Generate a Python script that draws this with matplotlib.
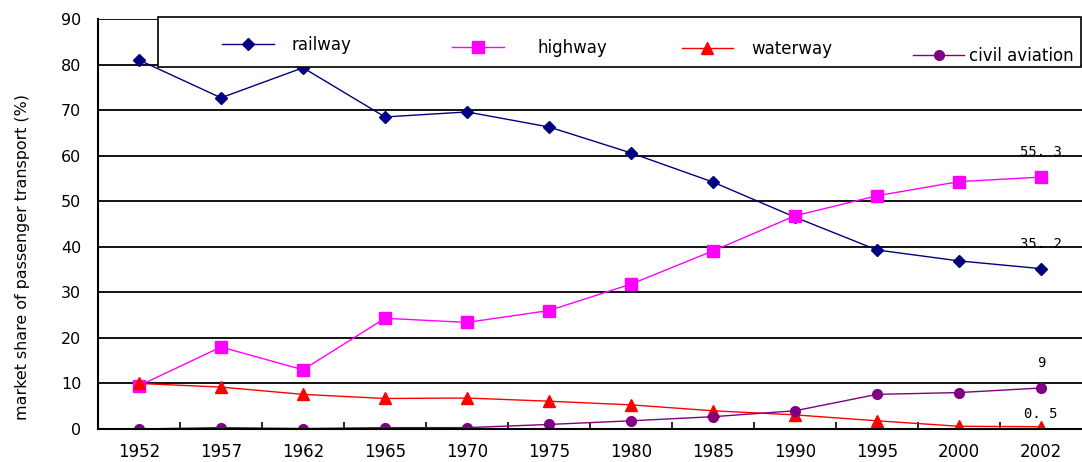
import matplotlib
matplotlib.use("Agg")
import matplotlib.pyplot as plt
from matplotlib.legend import Legend
from matplotlib.patches import Rectangle
import numpy as np

years = ["1952", "1957", "1962", "1965", "1970", "1975", "1980", "1985",
         "1990", "1995", "2000", "2002"]
railway = [81.0, 72.7, 79.3, 68.5, 69.6, 66.3, 60.6, 54.2, 46.5, 39.3, 36.9, 35.2]
highway = [9.5, 18.0, 13.0, 24.3, 23.4, 26.0, 31.8, 39.1, 46.8, 51.2, 54.3, 55.3]
waterway = [10.0, 9.2, 7.6, 6.7, 6.8, 6.1, 5.3, 4.0, 3.1, 1.8, 0.6, 0.5]
aviation = [0.0, 0.3, 0.1, 0.3, 0.3, 1.0, 1.8, 2.7, 4.0, 7.6, 8.0, 9.0]
end_labels = ["55. 3", "35. 2", "9", "0. 5"]

fig = plt.figure(figsize=(10.82, 4.62), dpi=100)
ax = fig.add_axes([98 / 1082, 33 / 462, 984 / 1082, 410 / 462])

x = np.arange(len(years))
lines = [
    ax.plot(x, railway, color="#000080", lw=1, marker="D", ms=6, label="railway")[0],
    ax.plot(x, highway, color="#FF00FF", lw=1, marker="s", ms=8, label="highway")[0],
    ax.plot(x, waterway, color="#FF0000", lw=1, marker="^", ms=8.5, label="waterway")[0],
    ax.plot(x, aviation, color="#800080", lw=1, marker="o", ms=7, label="civil aviation")[0],
]

ax.set_xlim(-0.5, 11.5)
ax.set_ylim(0, 90)
ax.set_yticks(range(0, 91, 10))
for v in range(10, 91, 10):
    ax.axhline(v, color="black", lw=1.3, zorder=0)

ax.set_xticks(x)
ax.set_xticklabels(years, fontsize=12)
ax.set_xticks(np.arange(0.5, 11, 1), minor=True)
ax.tick_params(axis="x", which="major", length=0, pad=10)
ax.tick_params(axis="x", which="minor", direction="in", length=5, width=1.2, color="black")
ax.tick_params(axis="y", length=0, pad=12, labelsize=11.5)

for s in ["top", "right"]:
    ax.spines[s].set_visible(False)
ax.spines["left"].set_linewidth(1.5)
ax.spines["bottom"].set_linewidth(1.5)

ax.set_ylabel("market share of passenger transport (%)", fontsize=11.4)
ax.yaxis.set_label_coords(-0.069, 0.42)

# labels on the 2002 end points
ends = [highway[-1], railway[-1], aviation[-1], waterway[-1]]
offsets = [18, 18, 18, 9]
for lab, v, off in zip(end_labels, ends, offsets):
    ax.annotate(lab, xy=(x[-1], v), xytext=(0, off), textcoords="offset points",
                ha="center", va="center", fontsize=10, family="DejaVu Sans Mono")

# legend box across the top, entries at an even pitch like the original
box = Rectangle((0.061, 0.883), 0.938, 0.122, transform=ax.transAxes,
                facecolor="white", edgecolor="black", lw=1.2, clip_on=False, zorder=5)
ax.add_patch(box)
starts = [0.126, 0.360, 0.593, 0.828]
text_pads = [1.1, 2.0, 1.1, 0.25]
text_y = [0.936, 0.930, 0.928, 0.910]
for ln, xs, pad, ty in zip(lines, starts, text_pads, text_y):
    lg = Legend(ax, [ln], [ln.get_label()], loc="center left",
                bbox_to_anchor=(xs, ty), frameon=False, borderpad=0,
                borderaxespad=0, fontsize=12, handlelength=3.1, handletextpad=pad)
    lg.set_zorder(6)
    ax.add_artist(lg)

fig.savefig("out.png", dpi=100)
